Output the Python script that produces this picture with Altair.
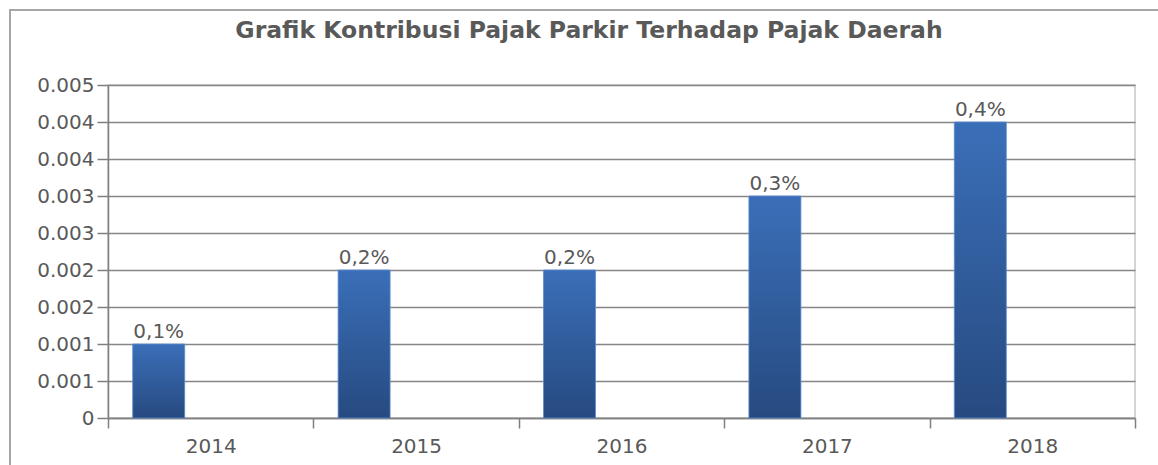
import altair as alt
import pandas as pd

years = ["2014", "2015", "2016", "2017", "2018"]
values = [0.001, 0.002, 0.002, 0.003, 0.004]
labels = ["0,1%", "0,2%", "0,2%", "0,3%", "0,4%"]
y_ticks = [0, 0.0005, 0.001, 0.0015, 0.002, 0.0025, 0.003, 0.0035, 0.004, 0.0045]
y_tick_labels = ["0", "0.001", "0.001", "0.002", "0.002", "0.003", "0.003", "0.004", "0.004", "0.005"]
title_text = "Grafik Kontribusi Pajak Parkir Terhadap Pajak Daerah"

df = pd.DataFrame({"year": years, "value": values, "label": labels})

FONT = "DejaVu Sans"
GRAY = "#595959"
W, H = 1027, 333

label_expr = "[" + ",".join(f"'{t}'" for t in y_tick_labels) + "][round(datum.value/0.0005)]"

x_enc = alt.X("year:N", sort=years, title=None,
              scale=alt.Scale(paddingInner=0, paddingOuter=0),
              axis=alt.Axis(labelAngle=0, tickBand="extent", tickSize=10, tickColor="#7f7f7f",
                            tickWidth=1.5, domainColor="#7f7f7f", domainWidth=1.5,
                            labelFont=FONT, labelFontSize=20, labelColor=GRAY, labelPadding=8,
                            grid=False))
y_enc = alt.Y("value:Q", title=None,
              scale=alt.Scale(domain=[0, 0.0045], nice=False),
              axis=alt.Axis(values=y_ticks, tickCount=len(y_ticks) + 2, labelExpr=label_expr,
                            labelOverlap=False,
                            tickSize=11, tickColor="#7f7f7f",
                            tickWidth=1.5, domainColor="#7f7f7f", domainWidth=1.5,
                            labelFont=FONT, labelFontSize=20, labelColor=GRAY, labelPadding=3,
                            grid=True, gridColor="#868686", gridWidth=1.5))

gradient = alt.Gradient(gradient="linear",
                        stops=[alt.GradientStop(color="#3a6fb8", offset=0),
                               alt.GradientStop(color="#274a80", offset=1)],
                        x1=0, x2=0, y1=0, y2=1)

bars = alt.Chart(df).mark_bar(width=52, xOffset=-52, color=gradient,
                              stroke="#5b8bd0", strokeWidth=0.8).encode(x=x_enc, y=y_enc)

text = alt.Chart(df).mark_text(xOffset=-52, dy=-6, baseline="alphabetic", font=FONT,
                               fontSize=20, color=GRAY).encode(
    x=alt.X("year:N", sort=years), y="value:Q", text="label:N")

tdf = pd.DataFrame({"t": [title_text]})
title = alt.Chart(tdf).mark_text(font=FONT, fontWeight="bold", fontSize=23.5, color=GRAY,
                                 align="center", baseline="middle").encode(
    x=alt.value(481), y=alt.value(-54), text="t:N")

border_top = alt.Chart(tdf).mark_rule(color="#a6a6a6", strokeWidth=2).encode(
    x=alt.value(-99), x2=alt.value(W + 30), y=alt.value(-75))
border_left = alt.Chart(tdf).mark_rule(color="#a6a6a6", strokeWidth=2).encode(
    x=alt.value(-98), y=alt.value(-76), y2=alt.value(H + 60))

chart = alt.layer(bars, text, title, border_top, border_left).properties(
    width=W, height=H,
    autosize=alt.AutoSizeParams(type="none"),
    padding={"left": 108, "top": 85, "right": 23, "bottom": 47},
    background="white",
).configure_view(stroke="#c8c8c8", strokeWidth=1.5)

chart.save("out.html", embed_options={"renderer": "svg", "actions": False})
